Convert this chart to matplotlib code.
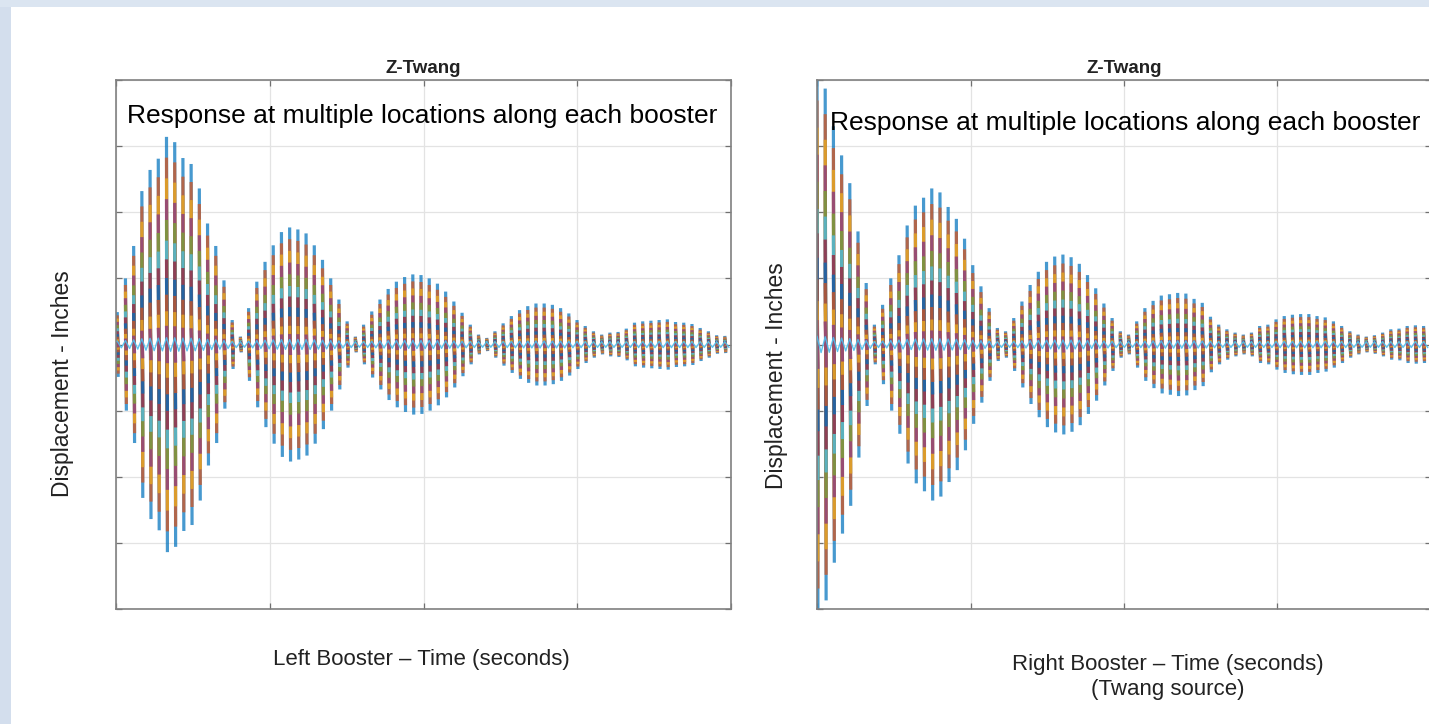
import numpy as np
import matplotlib
matplotlib.use("Agg")
import matplotlib.pyplot as plt
from matplotlib.patches import Rectangle

# ---------------- data ----------------
# time between successive oscillation peaks (x axis spans 0..4, gridlines each 1)
PERIOD = 0.0534
LEFT_T0 = 0.008
RIGHT_T0 = 0.0

# outermost-location peak amplitude of each oscillation cycle (inches, axis -4..4)
left_peaks = [0.49, 1.00, 1.49, 2.32, 2.64, 2.81, 3.14, 3.06, 2.82, 2.73,
              2.36, 1.83, 1.49, 0.97, 0.37, 0.12, 0.55, 0.95, 1.25, 1.50,
              1.70, 1.77, 1.74, 1.68, 1.50, 1.28, 1.00, 0.68, 0.35, 0.12,
              0.30, 0.50, 0.68, 0.84, 0.95, 1.02, 1.06, 1.05, 1.00, 0.92,
              0.80, 0.65, 0.48, 0.30, 0.15, 0.10, 0.20, 0.32, 0.43, 0.52,
              0.58, 0.62, 0.62, 0.60, 0.55, 0.47, 0.37, 0.28, 0.20, 0.15,
              0.18, 0.19, 0.24, 0.33, 0.35, 0.36, 0.37, 0.38, 0.34, 0.33,
              0.31, 0.25, 0.20, 0.14, 0.13]

right_peaks = [4.10, 3.87, 3.30, 2.86, 2.44, 1.71, 0.93, 0.30, 0.60, 1.00,
               1.35, 1.80, 2.10, 2.22, 2.36, 2.30, 2.08, 1.90, 1.60, 1.20,
               0.88, 0.55, 0.25, 0.20, 0.40, 0.65, 0.90, 1.10, 1.25, 1.33,
               1.36, 1.32, 1.22, 1.05, 0.85, 0.62, 0.40, 0.20, 0.15, 0.35,
               0.55, 0.66, 0.74, 0.76, 0.78, 0.77, 0.69, 0.63, 0.42, 0.30,
               0.23, 0.18, 0.15, 0.18, 0.28, 0.30, 0.38, 0.43, 0.45, 0.46,
               0.46, 0.43, 0.41, 0.35, 0.28, 0.20, 0.15, 0.12, 0.14, 0.18,
               0.23, 0.24, 0.28, 0.29, 0.28]

# relative response of each location along the booster
location_scales = [1.00, 0.90, 0.80, 0.70, 0.60, 0.50, 0.41, 0.32, 0.24, 0.16, 0.09]
ripple_scale = 0.02

matlab_colors = ['#0072BD', '#D95319', '#EDB120', '#7E2F8E',
                 '#77AC30', '#4DBEEE', '#A2142F']

title_text = "Z-Twang"
note_text = "Response at multiple locations along each booster"
ylabel_text = "Displacement - Inches"
left_xlabel = "Left Booster \u2013 Time (seconds)"
right_xlabel = "Right Booster \u2013 Time (seconds)\n(Twang source)"

# ---------------- figure ----------------
plt.rcParams['font.family'] = ['Liberation Sans', 'DejaVu Sans']
W, H = 1429, 724
fig = plt.figure(figsize=(W / 100, H / 100), dpi=100)
fig.patch.set_facecolor('white')

# light blue slide frame
fig.patches.append(Rectangle((0, 0), 11 / W, 1, transform=fig.transFigure,
                             facecolor='#d3deed', edgecolor='none', zorder=0))
fig.patches.append(Rectangle((0, 1 - 7 / H), 1, 7 / H, transform=fig.transFigure,
                             facecolor='#dbe5f1', edgecolor='none', zorder=0))


def px_axes(x0, x1, y0, y1):
    return fig.add_axes([x0 / W, 1 - y1 / H, (x1 - x0) / W, (y1 - y0) / H])


def draw_panel(ax, t0, peaks):
    peaks = np.asarray(peaks, dtype=float)
    t = t0 + PERIOD * np.arange(len(peaks))
    dt = 0.006
    nan = np.full_like(t, np.nan)
    for i, s in enumerate(location_scales):
        x = np.column_stack([t, t + dt, nan]).ravel()
        y = np.column_stack([peaks * s, -peaks * s, nan]).ravel()
        ax.plot(x, y, color=matlab_colors[i % 7], lw=2.3, alpha=0.72,
                solid_capstyle='butt', zorder=2 + i * 0.01)
    # near-zero wiggle of the quiet location
    xr = np.column_stack([t, t + PERIOD / 2]).ravel()
    yr = np.column_stack([peaks * ripple_scale + 0.04,
                          -peaks * ripple_scale - 0.04]).ravel()
    ax.plot(xr, yr, color='#4DBEEE', lw=1.0, alpha=0.9, zorder=3)

    ax.set_xlim(0, 4)
    ax.set_ylim(-4, 4)
    ax.set_xticks([0, 1, 2, 3, 4])
    ax.set_yticks([-4, -3, -2, -1, 0, 1, 2, 3, 4])
    ax.set_xticklabels([])
    ax.set_yticklabels([])
    ax.grid(True, color='#e3e3e3', lw=0.9, zorder=0)
    ax.set_axisbelow(True)
    ax.tick_params(direction='in', length=4.5, width=0.9, color='#707070',
                   top=True, right=True, bottom=True, left=True)
    for sp in ax.spines.values():
        sp.set_color('#808080')
        sp.set_linewidth(1.2)
    ax.set_title(title_text, fontsize=13.5, fontweight='bold', pad=5, color='#222222')


axL = px_axes(116, 731, 80, 609)
draw_panel(axL, LEFT_T0, left_peaks)
axR = px_axes(817, 1431, 80, 609)
draw_panel(axR, RIGHT_T0, right_peaks)

# annotation texts inside axes
fig.text(127 / W, 1 - 116 / H, note_text, fontsize=19, ha='left', va='center', color='black')
fig.text(830 / W, 1 - 123 / H, note_text, fontsize=19, ha='left', va='center', color='black')

# y labels
fig.text(63 / W, 1 - 384 / H, ylabel_text, fontsize=16.5, rotation=90,
         ha='center', va='center', color='#222222')
fig.text(777 / W, 1 - 376 / H, ylabel_text, fontsize=16.5, rotation=90,
         ha='center', va='center', color='#222222')

# x labels
fig.text(421 / W, 1 - 660 / H, left_xlabel, fontsize=16, ha='center', va='center',
         color='#222222')
fig.text(1168 / W, 1 - 677 / H, right_xlabel, fontsize=16, ha='center', va='center',
         color='#222222', linespacing=1.25)

fig.savefig('out.png', dpi=100)
